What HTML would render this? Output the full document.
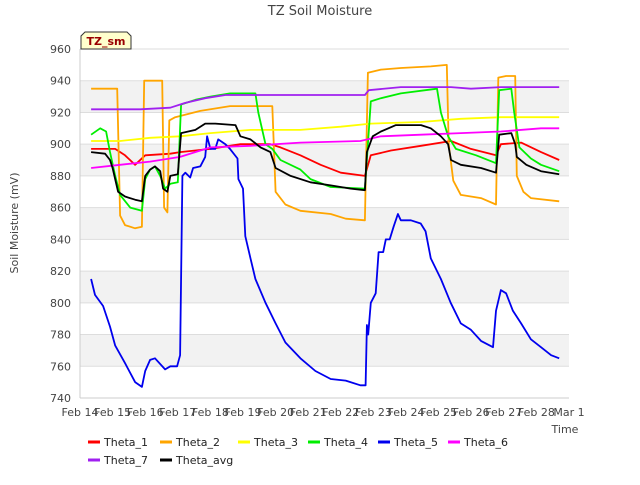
<!DOCTYPE html>
<html><head><meta charset="utf-8">
<style>
body{margin:0;background:#fff;font-family:"Liberation Sans","DejaVu Sans",sans-serif;}
svg text{font-family:"DejaVu Sans","Liberation Sans",sans-serif;}
</style></head>
<body>
<svg id="chart" width="640" height="480" xmlns="http://www.w3.org/2000/svg">
<rect width="640" height="480" fill="#fff"/>
<text x="320" y="15" text-anchor="middle" font-size="13" fill="#444">TZ Soil Moisture</text>
<g id="bands"></g>
<g id="grid"></g>
<g id="yticks"></g>
<g id="xticks"></g>
<line x1="80" y1="398" x2="569" y2="398" stroke="#ccc"/>
<line x1="80" y1="49" x2="80" y2="398" stroke="#ccc"/>
<g id="series"></g>
<text transform="translate(18,223) rotate(-90)" text-anchor="middle" font-size="11" fill="#444">Soil Moisture (mV)</text>
<text x="565" y="433" text-anchor="middle" font-size="11" fill="#444">Time</text>
<g>
<path d="M81,49 L81,36 L85,32 L127,32 L131,36 L131,49 Z" fill="#ffffcc" stroke="#333"/>
<text x="106" y="45" text-anchor="middle" font-size="11" font-weight="bold" fill="#990000">TZ_sm</text>
</g>
<g id="legend"></g>
</svg>
<script>
const yTicks=[740,760,780,800,820,840,860,880,900,920,940,960];
const xTickLabels=["Feb 14","Feb 15","Feb 16","Feb 17","Feb 18","Feb 19","Feb 20","Feb 21","Feb 22","Feb 23","Feb 24","Feb 25","Feb 26","Feb 27","Feb 28","Mar 1"];
const seriesNames=["Theta_1","Theta_2","Theta_3","Theta_4","Theta_5","Theta_6","Theta_7","Theta_avg"];
const seriesColors=["#ff0000","#ffa500","#ffff00","#00ee00","#0000ee","#ff00ff","#a020f0","#000000"];
// days since Feb 14
const theta1Days=[0.34,1.08,1.38,1.69,2.0,2.77,3.07,4.0,4.92,5.84,6.15,6.76,7.38,8.0,8.74,8.92,9.54,10.46,11.38,11.99,12.76,12.91,13.53,14.14,14.7];
const theta1Vals=[897,897,893,887,893,894,895,897,900,900,898,893,887,882,880,893,896,899,902,897,893,900,901,895,890];
const theta2Days=[0.34,0.92,1.14,1.23,1.38,1.69,1.9,1.97,2.52,2.58,2.68,2.74,2.92,3.69,4.6,5.38,5.9,6.0,6.3,6.76,7.69,8.15,8.74,8.83,9.23,9.84,10.76,11.25,11.31,11.45,11.68,12.3,12.76,12.83,13.07,13.35,13.4,13.6,13.83,14.7];
const theta2Vals=[935,935,935,855,849,847,848,940,940,860,857,915,917,921,924,924,924,870,862,858,856,853,852,945,947,948,949,950,900,877,868,866,862,942,943,943,880,870,866,864];
const theta3Days=[0.34,1.23,2.15,3.07,4.0,5.23,6.76,8.0,8.92,10.46,11.68,12.91,14.7];
const theta3Vals=[902,902,904,905,907,909,909,911,913,914,916,917,917];
const theta4Days=[0.34,0.62,0.8,0.92,1.08,1.23,1.54,1.9,2.0,2.15,2.3,2.46,2.61,2.77,3.0,3.1,3.54,4.0,4.6,5.38,5.47,5.69,5.9,6.15,6.76,7.07,7.69,8.74,8.92,9.23,9.84,10.95,11.07,11.29,11.53,12.15,12.76,12.86,13.23,13.32,13.48,13.83,14.14,14.7];
const theta4Vals=[906,910,908,895,880,868,860,858,878,884,886,880,872,875,876,925,928,930,932,932,920,900,897,890,884,878,873,872,927,929,932,935,920,905,897,893,888,934,935,920,898,891,887,883];
const theta5Days=[0.34,0.46,0.71,0.92,1.08,1.38,1.69,1.9,2.0,2.15,2.3,2.61,2.77,2.98,3.07,3.14,3.23,3.38,3.47,3.69,3.84,3.9,4.0,4.15,4.24,4.46,4.6,4.83,4.86,5.0,5.07,5.23,5.38,5.69,6.0,6.3,6.76,7.22,7.69,8.15,8.6,8.76,8.8,8.84,8.92,9.07,9.16,9.3,9.38,9.5,9.62,9.75,9.84,10.15,10.45,10.6,10.76,11.07,11.37,11.68,11.99,12.3,12.67,12.76,12.91,13.07,13.28,13.53,13.83,14.14,14.45,14.7];
const theta5Vals=[815,805,798,785,773,762,750,747,757,764,765,758,760,760,767,880,882,879,885,886,892,905,897,897,903,900,897,891,878,872,842,828,815,800,787,775,765,757,752,751,748,748,786,780,800,806,832,832,840,840,848,856,852,852,850,845,828,815,800,787,783,776,772,795,808,806,795,787,777,772,767,765];
const theta6Days=[0.34,1.23,2.15,3.07,4.0,5.23,6.76,8.6,9.23,10.46,11.68,12.91,14.14,14.7];
const theta6Vals=[885,887,889,892,898,899,901,902,905,906,907,908,910,910];
const theta7Days=[0.34,1.85,2.77,3.23,3.84,4.46,6.76,8.74,8.86,9.84,11.38,11.99,12.91,14.7];
const theta7Vals=[922,922,923,926,929,931,931,931,934,936,936,935,936,936];
const avgDays=[0.34,0.77,0.92,1.0,1.17,1.38,1.69,1.9,2.0,2.15,2.3,2.46,2.55,2.68,2.77,3.0,3.1,3.54,3.84,4.15,4.77,4.92,5.23,5.54,5.84,6.0,6.46,7.07,7.69,8.3,8.74,8.8,8.98,9.23,9.69,10.46,10.76,11.07,11.29,11.38,11.68,12.3,12.76,12.86,13.23,13.35,13.4,13.69,14.14,14.7];
const avgVals=[895,894,890,885,870,867,865,864,880,884,886,883,872,870,880,881,907,909,913,913,912,905,903,898,895,885,880,876,874,872,871,895,905,908,912,912,910,905,900,890,887,885,882,906,907,900,892,887,883,881];

const allDays=[theta1Days,theta2Days,theta3Days,theta4Days,theta5Days,theta6Days,theta7Days,avgDays];
const allVals=[theta1Vals,theta2Vals,theta3Vals,theta4Vals,theta5Vals,theta6Vals,theta7Vals,avgVals];

const X0=80,X1=569,Y0=398,Y1=49,DMIN=0,DMAX=15,VMIN=740,VMAX=960;
const xs=d=>X0+(d-DMIN)/(DMAX-DMIN)*(X1-X0);
const ys=v=>Y0-(v-VMIN)/(VMAX-VMIN)*(Y0-Y1);
const NS="http://www.w3.org/2000/svg";
function mk(tag,attrs,parent){const e=document.createElementNS(NS,tag);for(const k in attrs)e.setAttribute(k,attrs[k]);parent.appendChild(e);return e;}

const bands=document.getElementById('bands');
for(let v=760;v<960;v+=40){
  const r=mk('rect',{x:X0,y:ys(v+20),width:X1-X0,height:ys(v)-ys(v+20),fill:'#f2f2f2'},bands);
  
  
}
const grid=document.getElementById('grid'),yt=document.getElementById('yticks');
yTicks.forEach(v=>{
  const l=mk('line',{x1:X0,x2:X1,y1:ys(v),y2:ys(v),stroke:'#ddd'},grid);
  
  
  const t=mk('text',{x:X0-9,y:ys(v)+4,'text-anchor':'end','font-size':'11',fill:'#444'},yt);
  
  
  t.textContent=v;
});
const xt=document.getElementById('xticks');
xTickLabels.forEach((s,i)=>{
  const t=mk('text',{x:xs(i),y:416,'text-anchor':'middle','font-size':'11',fill:'#444'},xt);
  
  
  t.textContent=s;
});
const sg=document.getElementById('series');
allDays.forEach((days,i)=>{
  const pts=days.map((d,j)=>xs(d).toFixed(1)+','+ys(allVals[i][j]).toFixed(1)).join(' ');
  const p=mk('polyline',{points:pts,fill:'none',stroke:seriesColors[i],'stroke-width':'1.8','stroke-linejoin':'round'},sg);
  
  
});
const lg=document.getElementById('legend');
const lx=[88,160,238,308,378,448,88,160],ly=[442,442,442,442,442,442,460,460];
seriesNames.forEach((n,i)=>{
  const g=mk('g',{},lg);
  
  
  mk('line',{x1:lx[i],x2:lx[i]+12,y1:ly[i],y2:ly[i],stroke:seriesColors[i],'stroke-width':'3'},g);
  const t=mk('text',{x:lx[i]+16,y:ly[i]+4,'font-size':'11',fill:'#222'},g);
  t.textContent=n;
});
</script>
</body></html>
